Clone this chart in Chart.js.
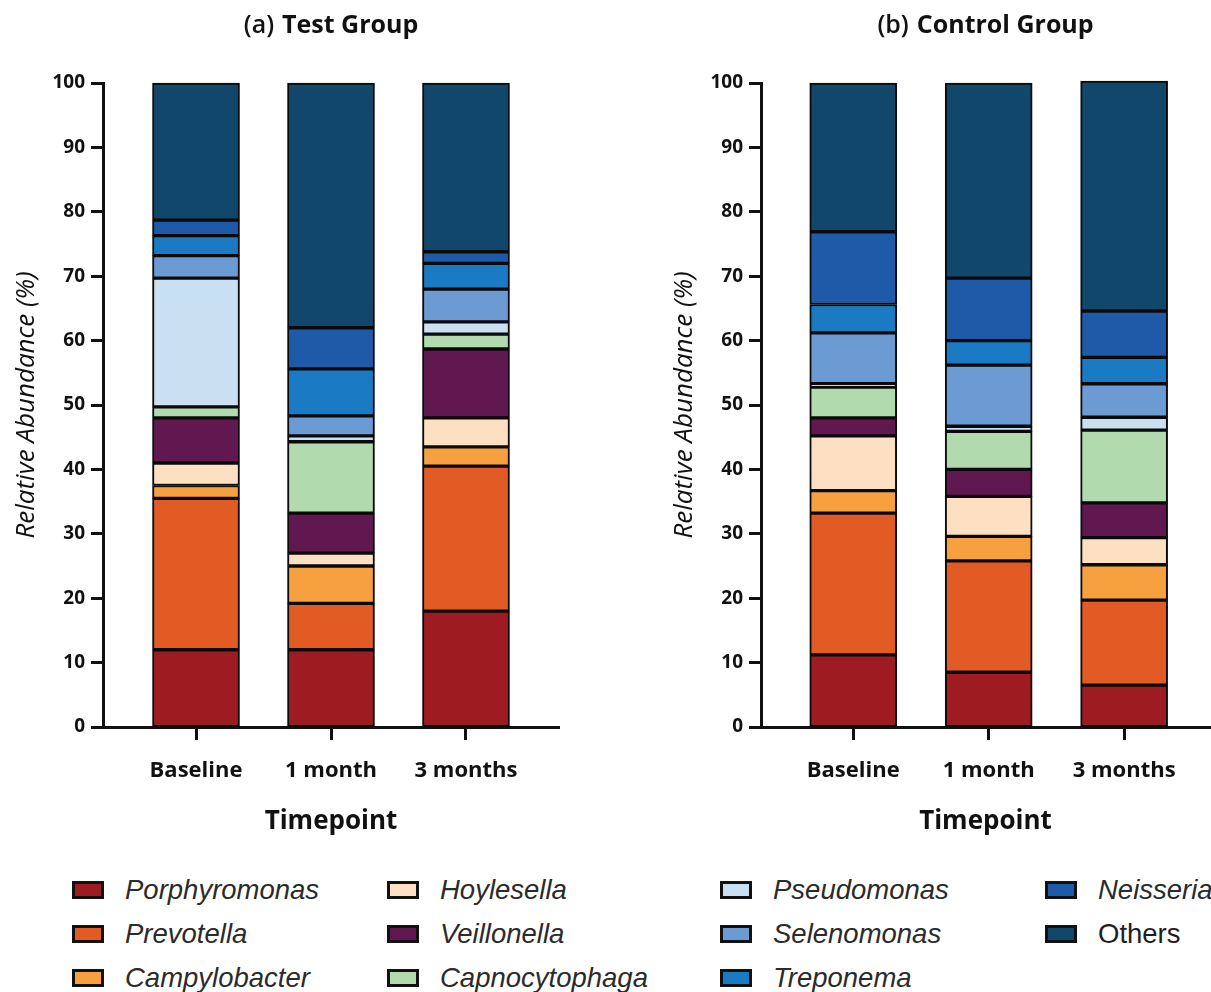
<!DOCTYPE html>
<html>
<head>
<meta charset="utf-8">
<script src="https://cdn.jsdelivr.net/npm/chart.js@4/dist/chart.umd.min.js"></script>
<style>
  html, body { margin: 0; padding: 0; background: #ffffff; }
  body { width: 1211px; height: 992px; position: relative; overflow: hidden; }
  .panel { position: absolute; top: 0; }
  #legend {
    position: absolute; left: 72px; top: 868px;
    display: grid;
    grid-template-columns: 315px 333px 325px 170px;
    grid-template-rows: 44px 44px 44px;
    grid-auto-flow: column;
  }
  .item { display: flex; align-items: center; font-family: "Liberation Sans", Arial, sans-serif;
          font-size: 27.5px; color: #2b2b2b; font-style: italic; white-space: nowrap; }
  .item.plain { font-style: normal; color: #1e1e1e; }
  .swatch { width: 32px; height: 18px; border: 3px solid #111; box-sizing: border-box; margin-right: 21px; flex: none; }
</style>
</head>
<body>
<div class="panel" style="left:0px"><canvas id="testChart" width="560" height="850"></canvas></div>
<div class="panel" style="left:658px"><canvas id="controlChart" width="553" height="850"></canvas></div>
<div id="legend"></div>

<script>
// Timepoints along the x axis
const timepoints = ['Baseline', '1 month', '3 months'];

// Genera, bottom to top of each stack
const genera = ['Porphyromonas', 'Prevotella', 'Campylobacter', 'Hoylesella', 'Veillonella',
                'Capnocytophaga', 'Pseudomonas', 'Selenomonas', 'Treponema', 'Neisseria', 'Others'];
const generaColors = ['#9e1b21', '#e25b25', '#f6a03f', '#fde0c1', '#611851',
                      '#b1dbae', '#c9dff2', '#6b9bd2', '#1a7bc4', '#1e5aa8', '#10476a'];

// Relative abundance (%) per genus, [Baseline, 1 month, 3 months]
const testPorphyromonas   = [12.0, 12.0, 18.0];
const testPrevotella      = [23.5,  7.2, 22.5];
const testCampylobacter   = [ 2.0,  5.8,  3.0];
const testHoylesella      = [ 3.5,  2.0,  4.5];
const testVeillonella     = [ 7.0,  6.2, 10.7];
const testCapnocytophaga  = [ 1.7, 11.1,  2.3];
const testPseudomonas     = [20.0,  0.9,  1.9];
const testSelenomonas     = [ 3.5,  3.1,  5.1];
const testTreponema       = [ 3.1,  7.3,  4.0];
const testNeisseria       = [ 2.4,  6.4,  1.8];
const testOthers          = [21.3, 38.0, 26.2];

const controlPorphyromonas  = [11.2,  8.5,  6.5];
const controlPrevotella     = [22.0, 17.3, 13.2];
const controlCampylobacter  = [ 3.5,  3.8,  5.5];
const controlHoylesella     = [ 8.5,  6.2,  4.2];
const controlVeillonella    = [ 2.8,  4.2,  5.4];
const controlCapnocytophaga = [ 4.8,  5.9, 11.3];
const controlPseudomonas    = [ 0.5,  0.8,  2.0];
const controlSelenomonas    = [ 7.9,  9.5,  5.2];
const controlTreponema      = [ 4.4,  3.8,  4.1];
const controlNeisseria      = [11.3,  9.7,  7.2];
const controlOthers         = [23.1, 30.3, 35.7];

const yTicks = [0, 10, 20, 30, 40, 50, 60, 70, 80, 90, 100];

const testSeries = [testPorphyromonas, testPrevotella, testCampylobacter, testHoylesella, testVeillonella,
  testCapnocytophaga, testPseudomonas, testSelenomonas, testTreponema, testNeisseria, testOthers];
const controlSeries = [controlPorphyromonas, controlPrevotella, controlCampylobacter, controlHoylesella,
  controlVeillonella, controlCapnocytophaga, controlPseudomonas, controlSelenomonas, controlTreponema,
  controlNeisseria, controlOthers];

// Panel heading: lighter "(x)" prefix followed by a bold group name
const panelTitle = {
  id: 'panelTitle',
  afterDraw(chart, args, opts) {
    const { ctx, chartArea } = chart;
    const cx = (chartArea.left + chartArea.right) / 2;
    ctx.save();
    ctx.fillStyle = '#111';
    ctx.textBaseline = 'middle';
    ctx.textAlign = 'left';
    const f1 = '600 25px "Open Sans"', f2 = '700 25px "Open Sans"';
    ctx.font = f1; const w1 = ctx.measureText(opts.prefix).width;
    ctx.font = f2; const w2 = ctx.measureText(opts.text).width;
    const gap = 8;
    const x = cx - (w1 + gap + w2) / 2;
    ctx.font = f1; ctx.fillText(opts.prefix, x, 26);
    ctx.font = f2; ctx.fillText(opts.text, x + w1 + gap, 26);
    ctx.restore();
  }
};

function buildChart(canvasId, series, prefix, text, xMin, xMax) {
  const datasets = genera.map((name, i) => ({
    label: name,
    data: series[i].map((v, k) => ({ x: k, y: v })),
    backgroundColor: generaColors[i],
    borderColor: '#0a0a0a',
    borderWidth: 2,
    borderSkipped: false,
    barThickness: 87,
    clip: false
  }));
  return new Chart(document.getElementById(canvasId), {
    type: 'bar',
    data: { datasets },
    plugins: [panelTitle],
    options: {
      responsive: false,
      animation: false,
      devicePixelRatio: 1,
      layout: { padding: { top: 83, left: 0, right: 1, bottom: 0 } },
      plugins: {
        legend: { display: false },
        tooltip: { enabled: false },
        panelTitle: { prefix, text }
      },
      scales: {
        x: {
          type: 'linear',
          stacked: true,
          offset: false,
          min: xMin,
          max: xMax,
          afterBuildTicks: (scale) => { scale.ticks = timepoints.map((_, k) => ({ value: k })); },
          afterDataLimits: (scale) => { scale.min = xMin; scale.max = xMax; },
          afterFit: (scale) => { scale.height = 123; },
          ticks: {
            callback: (value) => timepoints[value],
            font: { family: '"Open Sans", sans-serif', weight: '700', size: 22 },
            color: '#111',
            padding: 18,
            maxRotation: 0,
            autoSkip: false
          },
          grid: { offset: false, drawOnChartArea: false, drawTicks: true, tickLength: 13, tickColor: '#111', tickWidth: 3 },
          border: { display: true, color: '#111', width: 3 },
          title: {
            display: true,
            text: 'Timepoint',
            font: { family: '"Open Sans", sans-serif', weight: '700', size: 26 },
            color: '#111',
            padding: { top: 0, bottom: 13 }
          }
        },
        y: {
          type: 'linear',
          stacked: true,
          min: 0,
          max: 100,
          afterBuildTicks: (scale) => { scale.ticks = yTicks.map(v => ({ value: v })); },
          afterFit: (scale) => { scale.width = 103; },
          ticks: { font: { family: '"Open Sans", sans-serif', weight: '700', size: 19 }, color: '#111', padding: 6 },
          grid: { drawOnChartArea: false, drawTicks: true, tickLength: 12, tickColor: '#111', tickWidth: 3 },
          border: { display: true, color: '#111', width: 3 },
          title: {
            display: true,
            text: 'Relative Abundance (%)',
            font: { family: '"Open Sans", sans-serif', style: 'italic', size: 26 },
            color: '#111',
            padding: { top: 11, bottom: 0 }
          }
        }
      }
    }
  });
}

buildChart('testChart', testSeries, '(a)', 'Test Group', -0.689, 2.689);
buildChart('controlChart', controlSeries, '(b)', 'Control Group', -0.681, 2.634);

// Legend laid out column by column
const legend = document.getElementById('legend');
genera.forEach((name, i) => {
  const item = document.createElement('div');
  item.className = 'item' + (name === 'Others' ? ' plain' : '');
  const sw = document.createElement('span');
  sw.className = 'swatch';
  sw.style.background = generaColors[i];
  item.appendChild(sw);
  item.appendChild(document.createTextNode(name));
  legend.appendChild(item);
});
</script>
</body>
</html>
